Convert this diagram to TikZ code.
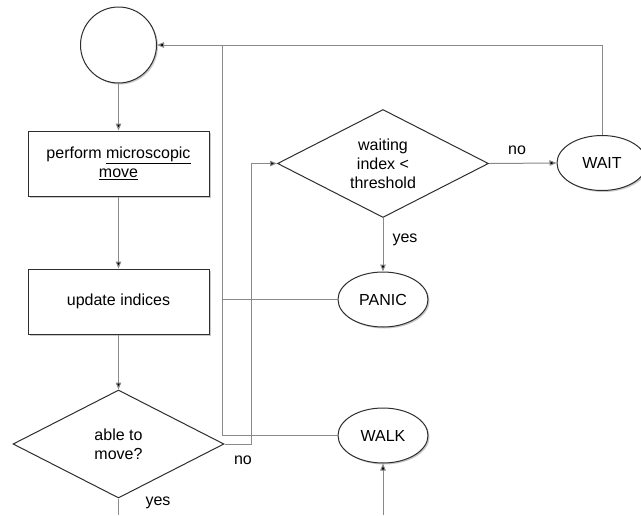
\documentclass[tikz,border=0pt]{standalone}
\usepackage{fontspec}
\setmainfont{Liberation Sans}
\usetikzlibrary{shapes.geometric,shadows,arrows.meta}
\definecolor{linegray}{HTML}{8A8A8A}
\definecolor{edgegray}{HTML}{2E2E2E}
\tikzset{
  shade box/.style={draw=edgegray,line width=1pt,fill=white,
    drop shadow={shadow xshift=1.5pt,shadow yshift=-1.5pt,fill=black!35,opacity=.6}},
  procbox/.style={shade box,rectangle,minimum width=181pt,minimum height=65pt,align=center},
  testbox/.style={draw=edgegray,line width=1pt,fill=white,diamond,aspect=1.95,inner sep=0pt,
    minimum width=211pt,minimum height=108pt,align=center},
  statebox/.style={shade box,ellipse,minimum width=90pt,minimum height=55pt},
  conn/.style={draw=linegray,line width=1pt},
  flow/.style={conn,-{Triangle[length=7pt,width=5.5pt,fill=black]}}
}
\begin{document}
\begin{tikzpicture}[x=1pt,y=-1pt,font=\fontsize{16}{19}\selectfont]
\useasboundingbox[fill=white] (0,0) rectangle (641,515);
\pgfmathsetmacro{\leftx}{118.5}
\pgfmathsetmacro{\rightx}{383}
% left column
\node[shade box,circle,minimum size=76pt] (start) at (\leftx,45) {};
\node[procbox] (perform) at (\leftx,163.5) {perform \underline{microscopic}\\\underline{move}};
\node[procbox] (update) at (\leftx,301.5) {update indices};
\node[testbox] (able) at (\leftx,444) {able to\\move?};
% right column
\node[testbox] (waiting) at (\rightx,163.5) {waiting\\index <\\threshold};
\node[statebox] (wait) at (602,163) {WAIT};
\node[statebox] (panic) at (\rightx,299.5) {PANIC};
\node[statebox] (walk) at (\rightx,435.5) {WALK};
\coordinate (loop) at (222,45);
\coordinate (yesend) at (\leftx,515);
\coordinate (walkin) at (\rightx,515);
% labels
\node (noright) at (517,150) {no};
\node (yesright) at (405,240) {yes};
\node (noleft) at (243,460) {no};
\node (yesleft) at (158,503) {yes};
% connectors
\draw[flow] (start) -- (perform);
\draw[flow] (perform) -- (update);
\draw[flow] (update) -- (able);
\draw[flow] (able.east) -- ++(27,0) |- (waiting.west);
\draw[flow] (waiting.east) -- (wait.west);
\draw[flow] (waiting.south) -- (panic.north);
\draw[flow] (wait.north) |- (start.east);
\draw[conn] (walk.west) -| (loop);
\draw[conn] (panic.west) -- (panic.west -| loop);
\draw[conn] (able.south) -- (yesend);
\draw[flow] (walkin) -- (walk.south);
\end{tikzpicture}
\end{document}
